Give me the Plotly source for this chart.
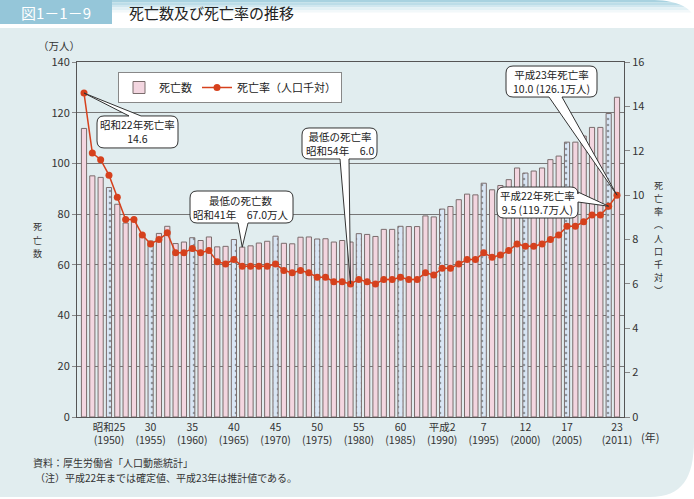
import plotly.graph_objects as go

# ---------------- data ----------------
years = list(range(1947, 2012))
deaths = [113.8, 95.1, 94.5, 90.5, 83.9, 76.5, 77.2, 72.1, 69.4, 72.4,
          75.2, 68.4, 69.0, 70.7, 69.6, 71.0, 67.1, 67.3, 70.0, 67.0,
          67.5, 68.6, 69.3, 71.3, 68.5, 68.3, 70.9, 71.0, 70.2, 70.3,
          69.0, 69.6, 69.0, 72.3, 72.0, 71.2, 74.0, 74.0, 75.2, 75.1,
          75.1, 79.3, 78.9, 82.0, 83.0, 85.7, 87.9, 87.6, 92.2, 89.6,
          91.3, 93.6, 98.2, 96.2, 97.0, 98.2, 101.5, 102.9, 108.4, 108.4,
          110.8, 114.2, 114.2, 119.7, 126.1]
rates = [14.6, 11.9, 11.6, 10.9, 9.9, 8.9, 8.9, 8.2, 7.8, 8.0,
         8.3, 7.4, 7.4, 7.6, 7.4, 7.5, 7.0, 6.9, 7.1, 6.8,
         6.8, 6.8, 6.8, 6.9, 6.6, 6.5, 6.6, 6.5, 6.3, 6.3,
         6.1, 6.1, 6.0, 6.2, 6.1, 6.0, 6.2, 6.2, 6.3, 6.2,
         6.2, 6.5, 6.4, 6.7, 6.7, 6.9, 7.1, 7.1, 7.4, 7.2,
         7.3, 7.5, 7.8, 7.7, 7.7, 7.8, 8.0, 8.2, 8.6, 8.6,
         8.8, 9.1, 9.1, 9.5, 10.0]
census_years = [1950, 1955, 1960, 1965, 1970, 1975, 1980, 1985, 1990, 1995, 2000, 2005, 2010]
tick_years = [1950, 1955, 1960, 1965, 1970, 1975, 1980, 1985, 1990, 1995, 2000, 2005, 2011]
tick_labels = ["昭和25<br>(1950)", "30<br>(1955)", "35<br>(1960)", "40<br>(1965)",
               "45<br>(1970)", "50<br>(1975)", "55<br>(1980)", "60<br>(1985)",
               "平成2<br>(1990)", "7<br>(1995)", "12<br>(2000)", "17<br>(2005)",
               "23<br>(2011)"]

FONT = "Noto Sans CJK JP"
W, H = 694, 499
PL, PR, PT, PB = 77, 624, 62, 417
XR = [1946.16, 2011.84]
Y1R = [0, 140]
Y2R = [0, 16]


def fx(px):
    return (px - PL) / (PR - PL)


def fy(py):
    return (PB - py) / (PB - PT)


def xpix(v):
    return PL + (v - XR[0]) / (XR[1] - XR[0]) * (PR - PL)


def ypix(v, r):
    return PB - (v - r[0]) / (r[1] - r[0]) * (PB - PT)


pink = "#f3d6e0"
blue = "#d9e6f5"
bar_colors = [blue if y in census_years else pink for y in years]
bar_patterns = ["." if y in census_years else "" for y in years]

fig = go.Figure()
fig.add_trace(go.Bar(
    x=years, y=deaths, name="死亡数", width=0.62,
    marker=dict(color=bar_colors, line=dict(color="#7a6c6c", width=1),
                pattern=dict(shape=bar_patterns, fgcolor="#7f9fd2", size=6, solidity=0.15)),
    yaxis="y", hoverinfo="skip"))
fig.add_trace(go.Scatter(
    x=years, y=rates, name="死亡率（人口千対）", mode="lines+markers",
    line=dict(color="#d6411d", width=1.5),
    marker=dict(color="#d6411d", size=7),
    yaxis="y2", hoverinfo="skip"))

shapes = []
annos = []

# ---- background panel & header ----
shapes.append(dict(type="path", xref="paper", yref="paper", layer="below",
                   path=(f"M {fx(0)} {fy(28)} L {fx(694)} {fy(28)} L {fx(694)} {fy(440)} "
                         f"C {fx(694)} {fy(478)} {fx(682)} {fy(497)} {fx(650)} {fy(497)} "
                         f"L {fx(0)} {fy(497)} Z"),
                   fillcolor="#e1edef", line=dict(width=0)))
grad = ["#a8d2e0", "#bcdde8", "#d0e7ef", "#e3f1f5", "#f2f8fa"]
for i, c in enumerate(grad):
    shapes.append(dict(type="rect", xref="paper", yref="paper", layer="below",
                       x0=fx(112), x1=fx(694), y0=fy(i * 2.5), y1=fy((i + 1) * 2.5),
                       fillcolor=c, line=dict(width=0)))
shapes.append(dict(type="path", xref="paper", yref="paper", layer="below",
                   path=(f"M {fx(650)} {fy(0)} C {fx(675)} {fy(0)} {fx(688)} {fy(6)} {fx(694)} {fy(16)} "
                         f"L {fx(694)} {fy(0)} Z"),
                   fillcolor="white", line=dict(width=0)))
shapes.append(dict(type="rect", xref="paper", yref="paper", layer="below",
                   x0=fx(0), x1=fx(112), y0=fy(0), y1=fy(24),
                   fillcolor="#95c6d9", line=dict(width=0)))
annos.append(dict(text="図1－1－9", xref="paper", yref="paper", x=fx(56), y=fy(13),
                  showarrow=False, font=dict(family=FONT, size=15, color="white"),
                  xanchor="center", yanchor="middle"))
annos.append(dict(text="死亡数及び死亡率の推移", xref="paper", yref="paper", x=fx(127), y=fy(13),
                  showarrow=False, font=dict(family=FONT, size=15, color="#222"),
                  xanchor="left", yanchor="middle"))

# ---- axis unit labels ----
annos.append(dict(text="（万人）", xref="paper", yref="paper", x=fx(59), y=fy(45),
                  showarrow=False, font=dict(family=FONT, size=10.5, color="#333"),
                  xanchor="center", yanchor="middle"))
annos.append(dict(text="(年)", xref="paper", yref="paper", x=fx(650), y=fy(437),
                  showarrow=False, font=dict(family=FONT, size=11, color="#333"),
                  xanchor="center", yanchor="middle"))
VF = 9
VP = 13.2
left_title = "死亡数"
for i, ch in enumerate(left_title):
    annos.append(dict(text=ch, xref="paper", yref="paper", x=fx(37),
                      y=fy(240 + (i - (len(left_title) - 1) / 2) * VP),
                      showarrow=False, font=dict(family=FONT, size=VF, color="#333"),
                      xanchor="center", yanchor="middle"))
right_title = "死亡率︵人口千対︶"
for i, ch in enumerate(right_title):
    annos.append(dict(text=ch, xref="paper", yref="paper", x=fx(659),
                      y=fy(238 + (i - (len(right_title) - 1) / 2) * VP),
                      showarrow=False, font=dict(family=FONT, size=VF, color="#333"),
                      xanchor="center", yanchor="middle"))

# ---- footnotes ----
annos.append(dict(text="資料：厚生労働省「人口動態統計」", xref="paper", yref="paper",
                  x=fx(31), y=fy(462), showarrow=False,
                  font=dict(family=FONT, size=10, color="#333"), xanchor="left", yanchor="middle"))
annos.append(dict(text="（注）平成22年までは確定値、平成23年は推計値である。", xref="paper", yref="paper",
                  x=fx(33), y=fy(477.5), showarrow=False,
                  font=dict(family=FONT, size=10, color="#333"), xanchor="left", yanchor="middle"))


# ---- callouts ----
def callout_path(box, side, base, tip, r=7):
    x0, y0, x1, y1 = box
    tx, ty = tip

    def P(x, y):
        return f"{x - tx:.1f},{ty - y:.1f}"

    s = f"M {P(x0 + r, y0)} "
    if side == "top":
        s += f"L {P(base[0], y0)} L {P(tx, ty)} L {P(base[1], y0)} "
    s += f"L {P(x1 - r, y0)} Q {P(x1, y0)} {P(x1, y0 + r)} "
    if side == "right":
        s += f"L {P(x1, base[0])} L {P(tx, ty)} L {P(x1, base[1])} "
    s += f"L {P(x1, y1 - r)} Q {P(x1, y1)} {P(x1 - r, y1)} "
    if side == "bottom":
        s += f"L {P(base[1], y1)} L {P(tx, ty)} L {P(base[0], y1)} "
    s += f"L {P(x0 + r, y1)} Q {P(x0, y1)} {P(x0, y1 - r)} "
    s += f"L {P(x0, y0 + r)} Q {P(x0, y0)} {P(x0 + r, y0)} Z"
    return s


callouts = [
    # text, data x, data y, axis, box, side, base
    ("昭和22年死亡率<br>14.6", 1947, rates[0], "y2", (97, 116, 178, 148), "top", (129, 141)),
    ("最低の死亡数<br>昭和41年　67.0万人", 1966, deaths[years.index(1966)], "y",
     (190, 191, 293, 223), "bottom", (238, 248)),
    ("最低の死亡率<br>昭和54年　6.0", 1979, rates[years.index(1979)], "y2",
     (302, 128, 377, 159), "bottom", (340, 349)),
    ("平成23年死亡率<br>10.0 (126.1万人)", 2011, rates[-1], "y2",
     (506, 66, 597, 97), "bottom", (549, 562)),
    ("平成22年死亡率<br>9.5 (119.7万人)", 2010, rates[-2], "y2",
     (497, 187, 578, 218), "right", (192, 202)),
]
for text, xv, yv, ax_, box, side, base in callouts:
    tx = xpix(xv)
    ty = ypix(yv, Y2R if ax_ == "y2" else Y1R)
    shapes.append(dict(type="path", xref="x", yref=ax_, xsizemode="pixel", ysizemode="pixel",
                       xanchor=xv, yanchor=yv, path=callout_path(box, side, base, (tx, ty)),
                       fillcolor="white", line=dict(color="#333", width=1), layer="above"))
    cx = (box[0] + box[2]) / 2
    cy = (box[1] + box[3]) / 2
    annos.append(dict(text=text, xref="x", yref=ax_, x=xv, y=yv, showarrow=False,
                      xshift=cx - tx, yshift=-(cy - ty), xanchor="center", yanchor="middle",
                      font=dict(family=FONT, size=10.5, color="#222")))

fig.update_layout(
    width=W, height=H,
    margin=dict(l=PL, r=W - PR, t=PT, b=H - PB, pad=0),
    paper_bgcolor="white", plot_bgcolor="white",
    font=dict(family=FONT, size=11, color="#333"),
    showlegend=True,
    legend=dict(orientation="h", x=fx(118), y=fy(72), xanchor="left", yanchor="top",
                bgcolor="white", bordercolor="#888", borderwidth=1,
                font=dict(family=FONT, size=11, color="#222"), tracegroupgap=0),
    xaxis=dict(range=XR, tickvals=tick_years, ticktext=tick_labels, ticks="",
               showgrid=False, zeroline=False, showline=True, mirror=True,
               linecolor="#555", linewidth=1,
               tickfont=dict(family=FONT, size=10.5, color="#333")),
    yaxis=dict(range=Y1R, dtick=20, showgrid=True, gridcolor="#777", gridwidth=1,
               ticks="outside", ticklen=4, tickcolor="#888", showline=True,
               linecolor="#555", zeroline=False,
               tickfont=dict(family=FONT, size=11, color="#333")),
    yaxis2=dict(range=Y2R, dtick=2, overlaying="y", side="right", showgrid=False,
                ticks="outside", ticklen=5, tickcolor="#888", showline=True,
                linecolor="#555", zeroline=False,
                tickfont=dict(family=FONT, size=11, color="#333")),
    shapes=shapes,
    annotations=annos,
)

fig.write_html("out.html", config={"displayModeBar": False},
               post_script="document.body.style.margin='0';document.body.style.padding='0';")
